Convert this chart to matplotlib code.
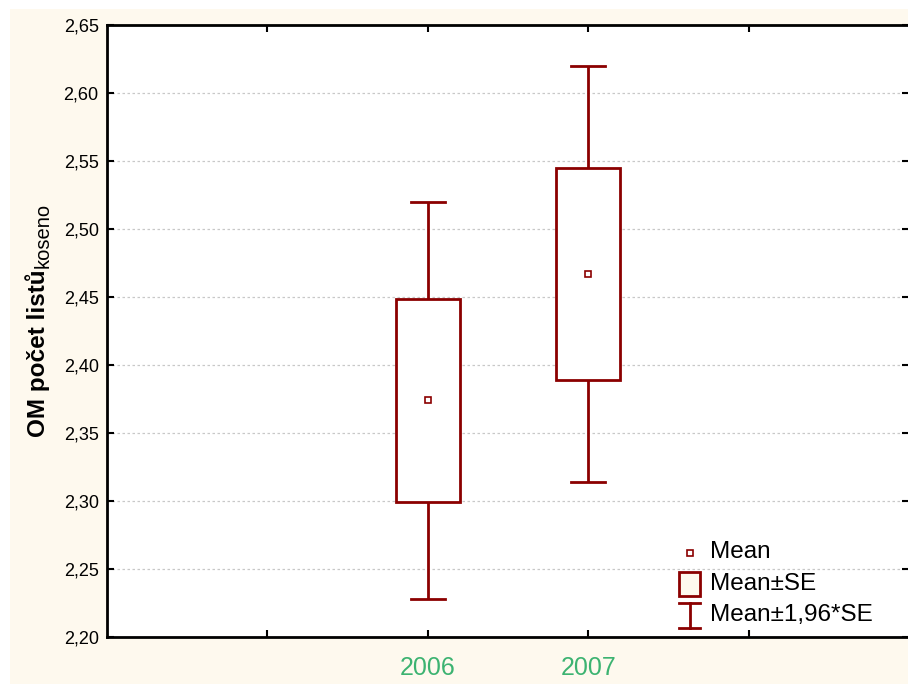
import matplotlib
matplotlib.use('Agg')
import matplotlib.pyplot as plt
from matplotlib.patches import Rectangle

plt.rcParams['font.family'] = ['Liberation Sans', 'DejaVu Sans']

# mean and standard error of leaf count per year
years = ['2006', '2007']
year_pos = [2, 3]
means = [2.374, 2.467]
se = [0.0745, 0.078]

y_ticks = [2.20, 2.25, 2.30, 2.35, 2.40, 2.45, 2.50, 2.55, 2.60, 2.65]

RED = '#8B0000'
CREAM = '#FEF9EE'
GREEN = '#3CB371'

fig = plt.figure(figsize=(9.08, 6.84), dpi=100)
fig.patches.append(Rectangle((10 / 908, 0), 898 / 908, 675 / 684,
                             transform=fig.transFigure, facecolor=CREAM,
                             edgecolor='none', zorder=-10))
ax = fig.add_axes([107 / 908, 47 / 684, 802 / 908, 612 / 684])
ax.set_facecolor('white')

box_w = 0.4
cap_w = 0.21
for x, m, s in zip(year_pos, means, se):
    lo, hi = m - s, m + s
    wlo, whi = m - 1.96 * s, m + 1.96 * s
    ax.add_patch(Rectangle((x - box_w / 2, lo), box_w, hi - lo, facecolor='white',
                           edgecolor=RED, linewidth=2.0, zorder=3))
    ax.plot([x, x], [hi, whi], color=RED, linewidth=2.0, zorder=3, solid_capstyle='butt')
    ax.plot([x, x], [wlo, lo], color=RED, linewidth=2.0, zorder=3, solid_capstyle='butt')
    ax.plot([x - cap_w / 2, x + cap_w / 2], [whi, whi], color=RED, linewidth=2.0, zorder=3)
    ax.plot([x - cap_w / 2, x + cap_w / 2], [wlo, wlo], color=RED, linewidth=2.0, zorder=3)
    ax.plot([x], [m], 's', markersize=5, markerfacecolor='white',
            markeredgecolor=RED, markeredgewidth=1.2, zorder=4)

ax.set_xlim(0, 5)
ax.set_ylim(2.20, 2.65)
ax.set_yticks(y_ticks)
ax.set_yticklabels([f'{v:.2f}'.replace('.', ',') for v in y_ticks], fontsize=13)
ax.set_xticks([1, 2, 3, 4])
ax.set_xticklabels(['', years[0], years[1], ''], fontsize=18, color=GREEN)
ax.tick_params(axis='x', direction='in', length=5, width=1.5, pad=14,
               top=True, bottom=True)
ax.tick_params(axis='y', direction='in', length=5, width=1.5, pad=6,
               left=True, right=True)
for sp in ax.spines.values():
    sp.set_linewidth(2.0)
    sp.set_color('black')
ax.yaxis.grid(True, color='#c8c8c8', linestyle=(0, (2, 2)), linewidth=0.9)
ax.set_axisbelow(True)

# y axis label with subscript
fig.text(38 / 908, 1 - 437 / 684, 'OM počet listů', rotation=90, fontsize=17.5,
         fontweight='bold', ha='center', va='bottom')
fig.text(43 / 908, 1 - 268 / 684, 'koseno', rotation=90, fontsize=14.5,
         ha='center', va='bottom')

# legend
lx0 = (679 - 107) / 802 * 5
lx1 = (700 - 107) / 802 * 5
lxm = (lx0 + lx1) / 2
def ypx(p):
    return 2.65 - (p - 25) / 612 * 0.45
ax.plot([lxm], [ypx(553)], 's', markersize=5, markerfacecolor='white',
        markeredgecolor=RED, markeredgewidth=1.2, zorder=5, clip_on=False)
ax.add_patch(Rectangle((lx0, ypx(596)), lx1 - lx0, ypx(572) - ypx(596),
                       facecolor=CREAM, edgecolor=RED, linewidth=2.0, zorder=5))
ax.plot([lxm, lxm], [ypx(603), ypx(628)], color=RED, linewidth=2.0, zorder=5)
ax.plot([lx0, lx1], [ypx(603), ypx(603)], color=RED, linewidth=2.0, zorder=5)
ax.plot([lx0, lx1], [ypx(628), ypx(628)], color=RED, linewidth=2.0, zorder=5)
tx = (710 - 107) / 802 * 5
for label, p in [('Mean', 552), ('Mean±SE', 584), ('Mean±1,96*SE', 615)]:
    ax.text(tx, ypx(p), label, fontsize=17.5, ha='left', va='center', zorder=5)

fig.savefig('out.png', dpi=100, facecolor='white')
